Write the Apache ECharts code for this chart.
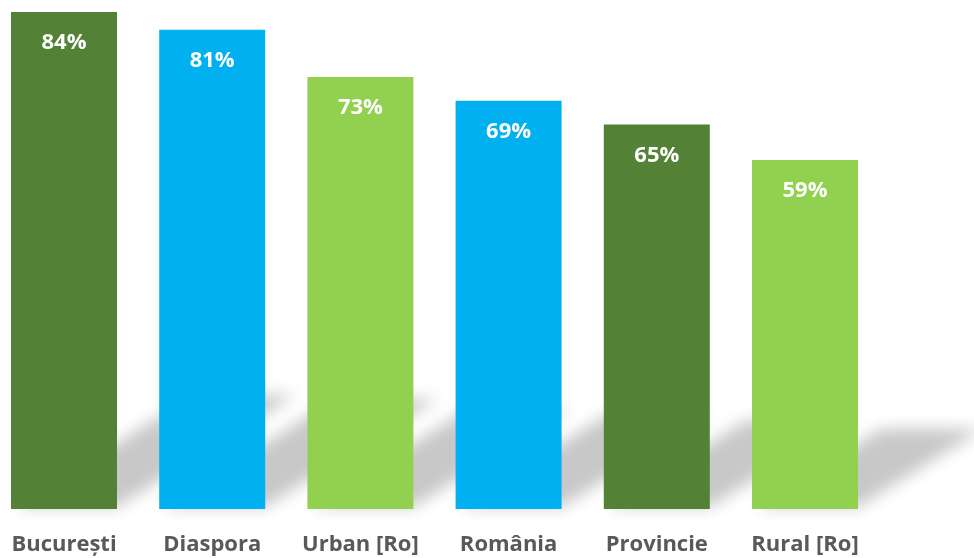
<!DOCTYPE html>
<html>
<head>
<meta charset="utf-8">
<script src="https://cdn.jsdelivr.net/npm/echarts@6/dist/echarts.min.js"></script>
<style>
  html, body { margin: 0; padding: 0; background: #fff; }
  #main { width: 974px; height: 558px; }
</style>
</head>
<body>
<div id="main"></div>
<script>
var categories = ['București', 'Diaspora', 'Urban [Ro]', 'România', 'Provincie', 'Rural [Ro]'];
var values = [84, 81, 73, 69, 65, 59];
var barColors = ['#538135', '#00B0F0', '#92D050', '#00B0F0', '#538135', '#92D050'];

var FONT = '"Open Sans", "Liberation Sans", sans-serif';
var BAR_W = 106;
var OFF = 3000; // shadow shape is drawn off-canvas, only its blur is shown

var shadowData = values.map(function (v, i) { return [i, v]; });

var myChart = echarts.init(document.getElementById('main'));
var option = {
  animation: false,
  grid: { left: 64, right: 169, top: 12, bottom: 49, containLabel: false },
  xAxis: {
    type: 'category',
    data: categories,
    boundaryGap: false,
    axisLine: { show: false },
    axisTick: { show: false },
    splitLine: { show: false },
    axisLabel: {
      interval: 0,
      color: '#595959',
      fontFamily: FONT,
      fontWeight: 'bold',
      fontSize: 22,
      margin: 25
    }
  },
  yAxis: {
    type: 'value',
    min: 0,
    max: 84,
    show: false,
    splitLine: { show: false }
  },
  series: [
    {
      // perspective shadows cast to the upper right
      type: 'custom',
      z: 1,
      silent: true,
      clip: false,
      data: shadowData,
      renderItem: function (params, api) {
        var idx = api.value(0);
        var base = api.coord([idx, 0]);
        var top = api.coord([idx, api.value(1)]);
        var h = base[1] - top[1];
        var dx = 0.36 * h, dy = 0.23 * h;
        var x0 = base[0] - BAR_W / 2 - OFF, x1 = base[0] + BAR_W / 2 - OFF;
        return {
          type: 'polygon',
          shape: {
            points: [
              [x0 + 4, base[1] - 2],
              [x1, base[1] - 2],
              [x1 + dx, base[1] - dy],
              [x0 + dx + 4, base[1] - dy]
            ]
          },
          style: {
            fill: '#cccccc',
            shadowBlur: 16,
            shadowColor: 'rgb(200,200,200)',
            shadowOffsetX: OFF,
            shadowOffsetY: 0
          }
        };
      }
    },
    {
      type: 'bar',
      z: 2,
      clip: false,
      data: values,
      barWidth: BAR_W,
      itemStyle: {
        color: function (p) { return barColors[p.dataIndex]; }
      },
      label: {
        show: true,
        position: 'insideTop',
        distance: 20,
        color: '#ffffff',
        fontFamily: FONT,
        fontWeight: 'bold',
        fontSize: 22,
        formatter: '{c}%'
      }
    }
  ]
};
myChart.setOption(option);
</script>
</body>
</html>
